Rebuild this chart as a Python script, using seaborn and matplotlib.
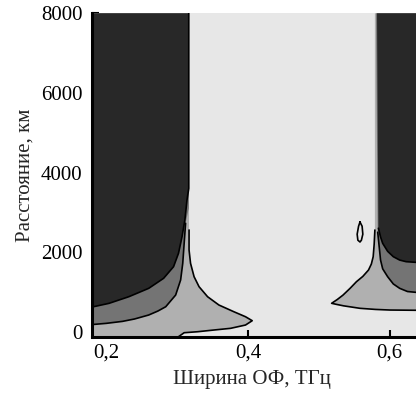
import matplotlib
matplotlib.use("Agg")
import matplotlib.pyplot as plt
import seaborn as sns

# contour lines (bandwidth THz, distance km)
# left lobe, outer contour (light area), top -> tip -> bottom edge
left_outer_x = [0.3165, 0.3169, 0.3169, 0.319, 0.324, 0.331, 0.343, 0.359, 0.380, 0.3965, 0.406,
                0.3965, 0.3754, 0.352, 0.329, 0.310, 0.302]
left_outer_y = [8000, 2556, 2053, 1719, 1382, 1131, 880, 671, 503, 377, 277,
                168, 85, 43, 0, -25, -125]
# left lobe, middle contour (medium grey)
left_mid_x = [0.3165, 0.3165, 0.312, 0.310, 0.308, 0.305, 0.298, 0.284, 0.273, 0.260, 0.240,
              0.223, 0.200, 0.18]
left_mid_y = [8000, 3100, 2724, 2221, 1719, 1300, 922, 628, 520, 420, 320,
              260, 210, 180]
# left lobe, inner contour (dark)
left_in_x = [0.3165, 0.3165, 0.314, 0.311, 0.307, 0.302, 0.295, 0.281, 0.260, 0.232, 0.204, 0.18]
left_in_y = [8000, 3600, 3310, 2807, 2387, 1970, 1633, 1342, 1090, 880, 713, 620]

# right lobe, outer contour, top -> tip -> right edge
right_outer_x = [0.579, 0.579, 0.578, 0.5766, 0.574, 0.570, 0.562, 0.553, 0.544, 0.534, 0.526, 0.518,
                 0.524, 0.535, 0.558, 0.580, 0.600, 0.660]
right_outer_y = [8000, 2555, 2200, 1885, 1700, 1550, 1390, 1257, 1090, 920, 810, 714,
                 690, 650, 588, 560, 545, 535]
right_mid_x = [0.5805, 0.583, 0.585, 0.587, 0.590, 0.597, 0.605, 0.614, 0.625, 0.660]
right_mid_y = [8000, 2500, 2150, 1800, 1580, 1382, 1200, 1090, 1010, 950]
right_in_x = [0.582, 0.584, 0.587, 0.590, 0.597, 0.605, 0.614, 0.623, 0.660]
right_in_y = [8000, 2600, 2380, 2220, 2020, 1885, 1800, 1760, 1715]

# small closed contour near 0,56 THz
island_x = [0.558, 0.561, 0.562, 0.560, 0.558, 0.555, 0.554, 0.556, 0.558]
island_y = [2757, 2650, 2450, 2300, 2254, 2300, 2450, 2650, 2757]

x_ticks = [0.2, 0.4, 0.6]
x_tick_labels = ['0,2', '0,4', '0,6']
y_ticks = [0, 2000, 4000, 6000, 8000]

sns.set_style('ticks')
plt.rcParams['font.family'] = ['Liberation Serif', 'DejaVu Serif']

greys = ['#e7e7e7', '#b0b0b0', '#747474', '#282828']

fig = plt.figure(figsize=(4.16, 3.95), dpi=100)
ax = fig.add_axes([92 / 416, 58.3 / 395, 324 / 416, 323.4 / 395])
ax.set_facecolor(greys[0])

x_lo, x_hi = 0.18, 0.66
y_lo = -125

# left lobe, filled from outside in
ax.fill([x_lo] + left_outer_x + [x_lo], [8000] + left_outer_y + [y_lo], color=greys[1], lw=0)
ax.fill([x_lo] + left_mid_x, [8000] + left_mid_y, color=greys[2], lw=0)
ax.fill([x_lo] + left_in_x, [8000] + left_in_y, color=greys[3], lw=0)

# right lobe
ax.fill([x_hi] + right_outer_x, [8000] + right_outer_y, color=greys[1], lw=0)
ax.fill([x_hi] + right_mid_x, [8000] + right_mid_y, color=greys[2], lw=0)
ax.fill([x_hi] + right_in_x, [8000] + right_in_y, color=greys[3], lw=0)

for xs, ys in [(left_outer_x[1:], left_outer_y[1:]), (left_mid_x[2:], left_mid_y[2:]),
               (left_in_x, left_in_y), (right_outer_x[1:], right_outer_y[1:]),
               (right_mid_x[1:], right_mid_y[1:]), (right_in_x[1:], right_in_y[1:]),
               (island_x, island_y)]:
    sns.lineplot(x=xs, y=ys, sort=False, estimator=None, color='black', lw=1.2, ax=ax)

ax.set_xlim(0.18, 0.637)
ax.set_ylim(y_lo, 8000)
ax.set_xticks(x_ticks)
ax.set_xticklabels(x_tick_labels)
ax.set_yticks(y_ticks)
ax.tick_params(direction='in', length=5, width=1.5, labelsize=15, colors='black')
ax.tick_params(axis='y', pad=7)
ax.tick_params(axis='x', pad=5)

for side in ['top', 'right']:
    ax.spines[side].set_visible(False)
for side in ['left', 'bottom']:
    ax.spines[side].set_linewidth(2.2)
    ax.spines[side].set_color('black')

ax.set_xlabel('Ширина ОФ, ТГц', fontsize=15)
ax.set_ylabel('Расстояние, км', fontsize=15)
ax.xaxis.set_label_coords(0.494, -0.103)
ax.yaxis.set_label_coords(-0.176, 0.5)

fig.savefig('out.png', dpi=100)
